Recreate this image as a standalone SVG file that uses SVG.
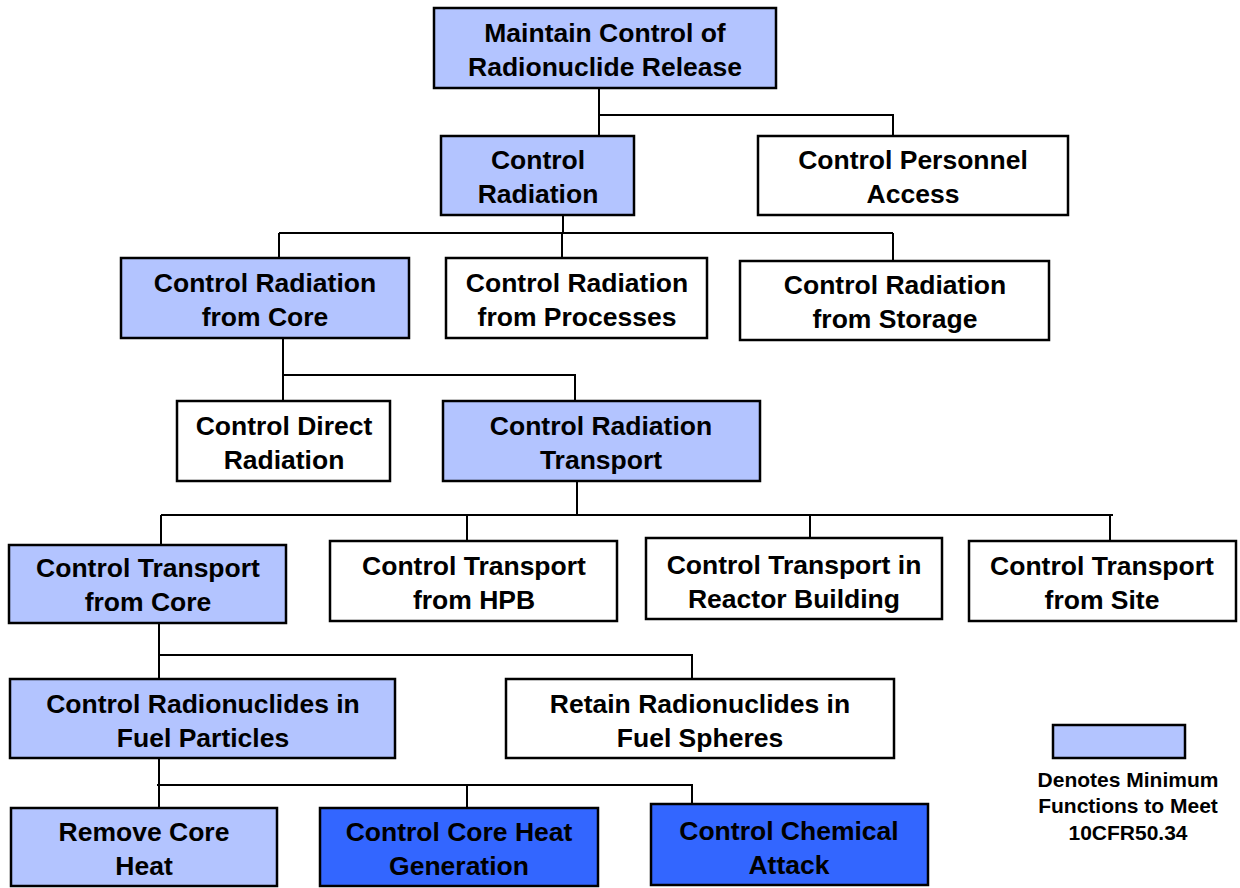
<svg xmlns="http://www.w3.org/2000/svg" width="1240" height="888" viewBox="0 0 1240 888">
<style>
.b{stroke:#000;stroke-width:2.5}
.l{fill:#B3C4FF}
.w{fill:#fff}
.d{fill:#3366FF}
text{font-family:"Liberation Sans",Arial,sans-serif;font-weight:bold;font-size:26.5px;fill:#000;text-anchor:middle}
.s{font-size:21px}
#connectors path{fill:none;stroke:#000;stroke-width:2}
</style>
<rect width="1240" height="888" fill="#fff"/>
<g id="connectors">
<path d="M599 88V136M599 115H893V136"/>
<path d="M563 215V233M279 233H893M279 233V258M562 233V258M893 233V260"/>
<path d="M283 338V401M283 375H575V401"/>
<path d="M577 481V515M161 515H1113M161 515V545M467 515V541M810 515V538M1110 515V541"/>
<path d="M159 623V679M159 655H692V679"/>
<path d="M159 758V808M157 785H692V804M467 785V808"/>
</g>
<g id="n1"><rect class="b l" x="434" y="8" width="342" height="80"/><text x="605" y="42">Maintain Control of</text><text x="605" y="76">Radionuclide Release</text></g>
<g id="n2"><rect class="b l" x="441" y="136" width="193" height="79"/><text x="538" y="169">Control</text><text x="538" y="203">Radiation</text></g>
<g id="n3"><rect class="b w" x="758" y="136" width="310" height="79"/><text x="913" y="169">Control Personnel</text><text x="913" y="203">Access</text></g>
<g id="n4"><rect class="b l" x="121" y="258" width="288" height="80"/><text x="265" y="292">Control Radiation</text><text x="265" y="326">from Core</text></g>
<g id="n5"><rect class="b w" x="446" y="258" width="261" height="80"/><text x="577" y="292">Control Radiation</text><text x="577" y="326">from Processes</text></g>
<g id="n6"><rect class="b w" x="740" y="261" width="309" height="79"/><text x="895" y="294">Control Radiation</text><text x="895" y="328">from Storage</text></g>
<g id="n7"><rect class="b w" x="177" y="401" width="213" height="80"/><text x="284" y="435">Control Direct</text><text x="284" y="469">Radiation</text></g>
<g id="n8"><rect class="b l" x="443" y="401" width="317" height="80"/><text x="601" y="435">Control Radiation</text><text x="601" y="469">Transport</text></g>
<g id="n9"><rect class="b l" x="9" y="545" width="277" height="78"/><text x="148" y="577">Control Transport</text><text x="148" y="611">from Core</text></g>
<g id="n10"><rect class="b w" x="330" y="541" width="287" height="80"/><text x="474" y="575">Control Transport</text><text x="474" y="609">from HPB</text></g>
<g id="n11"><rect class="b w" x="646" y="538" width="296" height="81"/><text x="794" y="574">Control Transport in</text><text x="794" y="608">Reactor Building</text></g>
<g id="n12"><rect class="b w" x="969" y="541" width="267" height="80"/><text x="1102" y="575">Control Transport</text><text x="1102" y="609">from Site</text></g>
<g id="n13"><rect class="b l" x="10" y="679" width="385" height="79"/><text x="203" y="713">Control Radionuclides in</text><text x="203" y="747">Fuel Particles</text></g>
<g id="n14"><rect class="b w" x="506" y="679" width="388" height="79"/><text x="700" y="713">Retain Radionuclides in</text><text x="700" y="747">Fuel Spheres</text></g>
<g id="n15"><rect class="b l" x="11" y="808" width="266" height="78"/><text x="144" y="841">Remove Core</text><text x="144" y="875">Heat</text></g>
<g id="n16"><rect class="b d" x="320" y="808" width="278" height="78"/><text x="459" y="841">Control Core Heat</text><text x="459" y="875">Generation</text></g>
<g id="n17"><rect class="b d" x="651" y="804" width="277" height="81"/><text x="789" y="840">Control Chemical</text><text x="789" y="874">Attack</text></g>
<g id="legend"><rect class="b l" x="1053" y="725" width="132" height="33"/><text class="s" x="1128" y="787">Denotes Minimum</text><text class="s" x="1128" y="813">Functions to Meet</text><text class="s" x="1128" y="840">10CFR50.34</text></g>
</svg>
